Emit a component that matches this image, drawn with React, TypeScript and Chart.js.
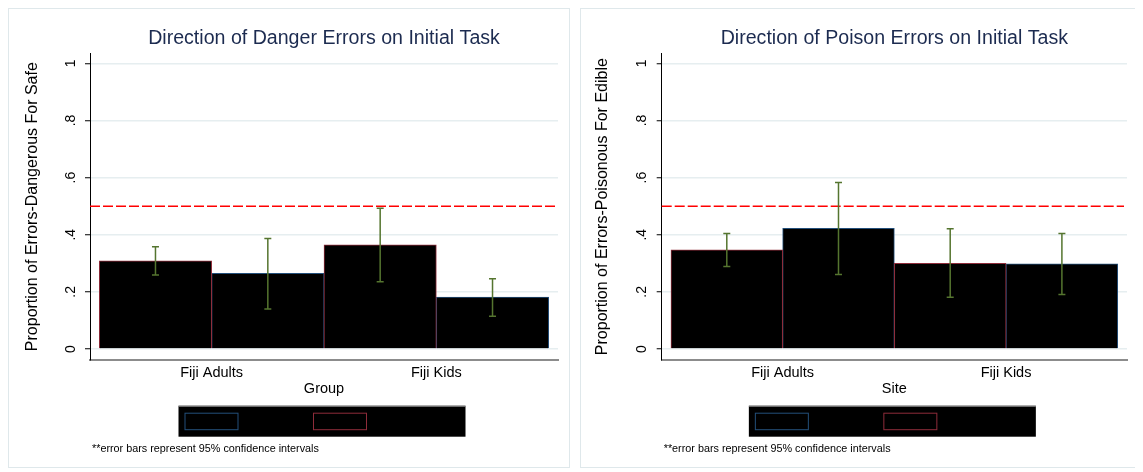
import React, { useEffect, useRef } from 'react';
import { Chart, registerables } from 'chart.js';

Chart.register(...registerables);

// ---------- data ----------
const groups = ['Fiji Adults', 'Fiji Kids'];
const groupPositions = [0, 1];
const yTickValues = [0, 0.2, 0.4, 0.6, 0.8, 1];
const yTickLabels = ['0', '.2', '.4', '.6', '.8', '1'];
const chanceLevel = 0.5;

const dangerFirst = [0.309, 0.365];
const dangerFirstLo = [0.259, 0.235];
const dangerFirstHi = [0.358, 0.493];
const dangerSecond = [0.265, 0.182];
const dangerSecondLo = [0.14, 0.115];
const dangerSecondHi = [0.387, 0.246];

const poisonFirst = [0.347, 0.3];
const poisonFirstLo = [0.289, 0.181];
const poisonFirstHi = [0.404, 0.421];
const poisonSecond = [0.422, 0.298];
const poisonSecondLo = [0.261, 0.191];
const poisonSecondHi = [0.583, 0.404];

// ---------- styles ----------
const FONT = "'Liberation Sans', Arial, Helvetica, sans-serif";
const RED = '#8e2c3a';
const BLUE = '#234f7a';
const GREEN = '#55752f';
const TITLE_COLOR = '#1c2b50';

type Panel = {
  title: string;
  xTitle: string;
  yTitle: string;
  first: number[];
  firstLo: number[];
  firstHi: number[];
  second: number[];
  secondLo: number[];
  secondHi: number[];
  padLeft: number;
  yWidth: number;
  padRight: number;
};

const panels: Panel[] = [
  {
    title: 'Direction of Danger Errors on Initial Task',
    xTitle: 'Group',
    yTitle: 'Proportion of Errors-Dangerous For Safe',
    first: dangerFirst,
    firstLo: dangerFirstLo,
    firstHi: dangerFirstHi,
    second: dangerSecond,
    secondLo: dangerSecondLo,
    secondHi: dangerSecondHi,
    padLeft: 14,
    yWidth: 67,
    padRight: 11,
  },
  {
    title: 'Direction of Poison Errors on Initial Task',
    xTitle: 'Site',
    yTitle: 'Proportion of Errors-Poisonous For Edible',
    first: poisonFirst,
    firstLo: poisonFirstLo,
    firstHi: poisonFirstHi,
    second: poisonSecond,
    secondLo: poisonSecondLo,
    secondHi: poisonSecondHi,
    padLeft: 12.4,
    yWidth: 68.3,
    padRight: 14,
  },
];

const CANVAS_W = 560;
const CANVAS_H = 458;

function makeConfig(p: Panel): any {
  const ranges = [
    [p.firstLo, p.firstHi],
    [p.secondLo, p.secondHi],
  ];

  const refLinePlugin = {
    id: 'refLine',
    beforeDatasetsDraw(chart: any) {
      const { ctx, chartArea } = chart;
      const y = chart.scales.y.getPixelForValue(chanceLevel);
      ctx.save();
      ctx.strokeStyle = '#ff0000';
      ctx.lineWidth = 1.5;
      ctx.setLineDash([10, 3]);
      ctx.beginPath();
      ctx.moveTo(chartArea.left, y);
      ctx.lineTo(chartArea.right - 3, y);
      ctx.stroke();
      ctx.restore();
    },
  };

  const errorBarPlugin = {
    id: 'errorBars',
    afterDatasetsDraw(chart: any) {
      const { ctx } = chart;
      const yScale = chart.scales.y;
      chart.data.datasets.forEach((_ds: any, di: number) => {
        const meta = chart.getDatasetMeta(di);
        meta.data.forEach((bar: any, i: number) => {
          const x = bar.x;
          const top = yScale.getPixelForValue(ranges[di][1][i]);
          const bot = yScale.getPixelForValue(ranges[di][0][i]);
          ctx.save();
          ctx.strokeStyle = GREEN;
          ctx.lineWidth = 1.5;
          ctx.beginPath();
          ctx.moveTo(x, top);
          ctx.lineTo(x, bot);
          ctx.moveTo(x - 3.5, top);
          ctx.lineTo(x + 3.5, top);
          ctx.moveTo(x - 3.5, bot);
          ctx.lineTo(x + 3.5, bot);
          ctx.stroke();
          ctx.restore();
        });
      });
    },
  };

  const legendFootPlugin = {
    id: 'legendFoot',
    afterDraw(chart: any) {
      const { ctx, chartArea } = chart;
      const cx = (chartArea.left + chartArea.right) / 2 - 2;
      const w = 287;
      const h = 31;
      const left = cx - w / 2;
      const top = chartArea.bottom + 45.7;
      ctx.save();
      ctx.fillStyle = '#000';
      ctx.fillRect(left, top, w, h);
      ctx.strokeStyle = '#a0a0a0';
      ctx.lineWidth = 1;
      ctx.beginPath();
      ctx.moveTo(left, top + 0.5);
      ctx.lineTo(left + w, top + 0.5);
      ctx.stroke();
      const keys = [BLUE, RED];
      keys.forEach((c, k) => {
        ctx.strokeStyle = c;
        ctx.lineWidth = 1;
        ctx.strokeRect(left + 6 + k * 128.5 + 0.5, top + 7.5, 53, 16.5);
      });
      ctx.fillStyle = '#000';
      ctx.font = `10.8px ${FONT}`;
      ctx.textAlign = 'left';
      ctx.textBaseline = 'middle';
      ctx.fillText('**error bars represent 95% confidence intervals', chartArea.left + 2, chartArea.bottom + 89.5);
      ctx.restore();
    },
  };

  return {
    type: 'bar',
    data: {
      datasets: [
        {
          label: 'first',
          data: groupPositions.map((x, i) => ({ x, y: p.first[i] })),
          backgroundColor: '#000',
          borderColor: RED,
          borderWidth: 1,
        },
        {
          label: 'second',
          data: groupPositions.map((x, i) => ({ x, y: p.second[i] })),
          backgroundColor: '#000',
          borderColor: BLUE,
          borderWidth: 1,
        },
      ],
    },
    options: {
      animation: false,
      responsive: false,
      maintainAspectRatio: false,
      events: [],
      layout: { padding: { left: p.padLeft, right: p.padRight, top: 0, bottom: CANVAS_H - 388.7 } },
      datasets: { bar: { categoryPercentage: 1, barPercentage: 1 } },
      plugins: {
        legend: { display: false },
        tooltip: { enabled: false },
        title: {
          display: true,
          text: p.title,
          fullSize: false,
          color: TITLE_COLOR,
          font: { family: FONT, size: 19.6, weight: 'normal' },
          padding: { top: 17.8, bottom: 3 },
        },
      },
      scales: {
        x: {
          type: 'linear',
          offset: false,
          bounds: 'data',
          min: -0.5414,
          max: 1.5414,
          afterBuildTicks: (s: any) => {
            s.ticks = groupPositions.map((v) => ({ value: v }));
          },
          ticks: {
            callback: (v: number) => groups[groupPositions.indexOf(v)] ?? '',
            color: '#000',
            font: { family: FONT, size: 14.5 },
            padding: 4.3,
            autoSkip: false,
            maxRotation: 0,
            minRotation: 0,
          },
          grid: { display: false, drawTicks: false, offset: false },
          border: { display: true, color: '#8c8c8c', width: 2 },
          title: {
            display: true,
            text: p.xTitle,
            color: '#000',
            font: { family: FONT, size: 14.5 },
            padding: 0,
          },
          afterFit: (s: any) => {
            s.height = 37.7;
          },
        },
        y: {
          type: 'linear',
          bounds: 'data',
          min: -0.0385,
          max: 1.035,
          afterBuildTicks: (s: any) => {
            s.ticks = yTickValues.map((v) => ({ value: v }));
          },
          ticks: {
            callback: (v: number) => yTickLabels[yTickValues.indexOf(v)] ?? '',
            color: '#000',
            font: { family: FONT, size: 14 },
            minRotation: 90,
            maxRotation: 90,
            crossAlign: 'center',
            padding: 8.5,
            autoSkip: false,
          },
          grid: {
            color: '#e6eef0',
            lineWidth: 1.5,
            tickLength: 5,
            tickColor: '#000',
            tickWidth: 1,
          },
          border: { display: true, color: '#000', width: 1 },
          title: {
            display: true,
            text: p.yTitle,
            color: '#000',
            font: { family: FONT, size: 16 },
            padding: 0,
          },
          afterFit: (s: any) => {
            s.width = p.yWidth;
          },
        },
      },
    },
    plugins: [refLinePlugin, errorBarPlugin, legendFootPlugin],
  };
}

function ChartPanel({ panel }: { panel: Panel }) {
  const ref = useRef<HTMLCanvasElement | null>(null);
  useEffect(() => {
    if (!ref.current) return;
    const chart = new Chart(ref.current, makeConfig(panel));
    return () => chart.destroy();
  }, [panel]);
  return (
    <div
      style={{
        border: '1px solid #dfe8eb',
        width: CANVAS_W,
        height: CANVAS_H,
        background: '#fff',
        flex: 'none',
      }}
    >
      <canvas ref={ref} width={CANVAS_W} height={CANVAS_H} style={{ display: 'block', width: CANVAS_W, height: CANVAS_H }} />
    </div>
  );
}

export default function App() {
  return (
    <div style={{ display: 'flex', gap: 10, width: 1135 }}>
      {panels.map((p) => (
        <ChartPanel key={p.title} panel={p} />
      ))}
    </div>
  );
}
